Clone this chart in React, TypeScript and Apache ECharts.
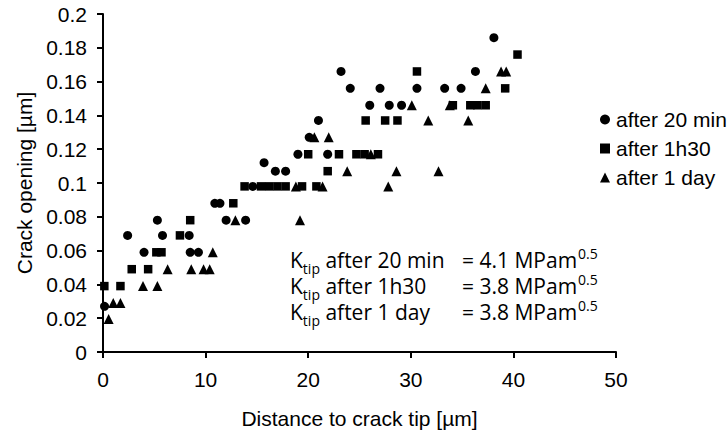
import React, { useEffect, useRef } from "react";
import * as echarts from "echarts";

const xTicks = [0, 10, 20, 30, 40, 50];
const yTicks = [0, 0.02, 0.04, 0.06, 0.08, 0.1, 0.12, 0.14, 0.16, 0.18, 0.2];

const after20min: [number, number][] = [
  [0.15, 0.027], [2.4, 0.069], [4.0, 0.059], [5.3, 0.078], [5.8, 0.069], [8.4, 0.069],
  [8.5, 0.059], [9.3, 0.059], [10.9, 0.088], [11.4, 0.088], [12.0, 0.078], [13.9, 0.078],
  [14.6, 0.098], [15.7, 0.112], [16.8, 0.107], [17.8, 0.107], [19.0, 0.117], [20.1, 0.127],
  [21.0, 0.137], [21.9, 0.117], [23.2, 0.166], [24.1, 0.156], [26.0, 0.146], [27.0, 0.156],
  [27.9, 0.146], [29.1, 0.146], [30.6, 0.156], [33.3, 0.156], [34.9, 0.156], [36.3, 0.166],
  [38.1, 0.186],
];

const after1h30: [number, number][] = [
  [0.13, 0.039], [1.7, 0.039], [2.8, 0.049], [4.4, 0.049], [5.2, 0.059], [5.7, 0.059],
  [7.5, 0.069], [8.5, 0.078], [12.7, 0.088], [13.8, 0.098], [15.4, 0.098], [16.2, 0.098],
  [17.0, 0.098], [17.8, 0.098], [19.4, 0.098], [20.8, 0.098], [20.0, 0.117], [21.9, 0.107],
  [23.0, 0.117], [24.7, 0.117], [25.5, 0.117], [26.8, 0.117], [25.6, 0.137], [27.5, 0.137],
  [28.7, 0.137], [30.6, 0.166], [34.1, 0.146], [35.8, 0.146], [36.5, 0.146], [37.3, 0.146],
  [39.2, 0.156], [40.4, 0.176],
];

const after1day: [number, number][] = [
  [0.55, 0.0196], [1.0, 0.029], [1.7, 0.029], [3.9, 0.039], [5.3, 0.039], [6.3, 0.049],
  [8.6, 0.049], [9.8, 0.049], [10.4, 0.049], [10.7, 0.059], [12.9, 0.078], [18.8, 0.098],
  [19.2, 0.078], [20.6, 0.127], [21.4, 0.098], [22.0, 0.127], [23.8, 0.107], [26.1, 0.117],
  [27.8, 0.098], [28.6, 0.107], [30.1, 0.146], [31.7, 0.137], [32.7, 0.107], [33.8, 0.146],
  [35.6, 0.137], [37.3, 0.156], [38.8, 0.166], [39.3, 0.166],
];

const seriesNames = ["after 20 min", "after 1h30", "after 1 day"];
const kLabels = ["after 20 min", "after 1h30", "after 1 day"];
const kValues = ["4.1", "3.8", "3.8"];

export default function App() {
  const ref = useRef<HTMLDivElement>(null);
  useEffect(() => {
    if (!ref.current) return;
    const chart = echarts.init(ref.current, undefined, { renderer: "svg" });
    const axisFont = "Arial, 'Liberation Sans', sans-serif";
    const kFam = "'Open Sans', 'DejaVu Sans', sans-serif";
    const mainSize = 21;
    const smallSize = 14;
    const ctx = document.createElement("canvas").getContext("2d") as CanvasRenderingContext2D;
    const measure = (t: string, size: number) => {
      ctx.font = size + "px " + kFam;
      return ctx.measureText(t).width;
    };
    const kTexts: any[] = [];
    const x0 = 290;
    const xEq = 462;
    kLabels.forEach((lab, i) => {
      const y = 260 + i * 26;
      const wK = measure("K", mainSize);
      const wTip = measure("tip", smallSize);
      kTexts.push({ type: "text", x: x0, y, style: { text: "K", fontSize: mainSize, fontFamily: kFam, fill: "#000", align: "left", verticalAlign: "middle" } });
      kTexts.push({ type: "text", x: x0 + wK, y: y + 8, style: { text: "tip", fontSize: smallSize, fontFamily: kFam, fill: "#000", align: "left", verticalAlign: "middle" } });
      kTexts.push({ type: "text", x: x0 + wK + wTip, y, style: { text: " " + lab, fontSize: mainSize, fontFamily: kFam, fill: "#000", align: "left", verticalAlign: "middle" } });
      const eqText = "= " + kValues[i] + " MPam";
      const wEq = measure(eqText, mainSize);
      kTexts.push({ type: "text", x: xEq, y, style: { text: eqText, fontSize: mainSize, fontFamily: kFam, fill: "#000", align: "left", verticalAlign: "middle" } });
      kTexts.push({ type: "text", x: xEq + wEq + 1, y: y - 7, style: { text: "0.5", fontSize: smallSize, fontFamily: kFam, fill: "#000", align: "left", verticalAlign: "middle" } });
    });
    chart.setOption({
      animation: false,
      backgroundColor: "#fff",
      grid: { left: 103, right: 112, top: 14, bottom: 82, containLabel: false },
      legend: {
        orient: "vertical",
        left: 595,
        top: 104,
        itemWidth: 10,
        itemHeight: 10,
        itemGap: 8,
        textStyle: { fontSize: 21, fontFamily: axisFont, color: "#000", padding: [0, 0, 0, 1] },
        data: [
          { name: seriesNames[0], icon: "circle" },
          { name: seriesNames[1], icon: "rect" },
          { name: seriesNames[2], icon: "triangle" },
        ],
      },
      xAxis: {
        type: "value",
        min: xTicks[0],
        max: xTicks[xTicks.length - 1],
        interval: 10,
        name: "Distance to crack tip [µm]",
        nameLocation: "middle",
        nameGap: 56,
        nameTextStyle: { fontSize: 21, fontFamily: axisFont, color: "#000" },
        axisLine: { show: true, onZero: false, lineStyle: { color: "#000", width: 2 } },
        axisTick: { show: true, inside: false, length: 6, lineStyle: { color: "#000", width: 2 } },
        axisLabel: { fontSize: 21, fontFamily: axisFont, color: "#000", margin: 17 },
        splitLine: { show: false },
      },
      yAxis: {
        type: "value",
        min: yTicks[0],
        max: yTicks[yTicks.length - 1],
        interval: 0.02,
        name: "Crack opening [µm]",
        nameLocation: "middle",
        nameGap: 65,
        nameRotate: 90,
        nameTextStyle: { fontSize: 21, fontFamily: axisFont, color: "#000" },
        axisLine: { show: true, onZero: false, lineStyle: { color: "#000", width: 2 } },
        axisTick: { show: true, inside: false, length: 6, lineStyle: { color: "#000", width: 2 } },
        axisLabel: {
          fontSize: 21,
          fontFamily: axisFont,
          color: "#000",
          margin: 16,
          formatter: (v: number) => String(parseFloat(v.toFixed(2))),
        },
        splitLine: { show: false },
      },
      series: [
        {
          name: seriesNames[0],
          type: "scatter",
          symbol: "circle",
          symbolSize: 9,
          itemStyle: { color: "#000", opacity: 1 },
          data: after20min,
        },
        {
          name: seriesNames[1],
          type: "scatter",
          symbol: "rect",
          symbolSize: 8.5,
          itemStyle: { color: "#000", opacity: 1 },
          data: after1h30,
        },
        {
          name: seriesNames[2],
          type: "scatter",
          symbol: "triangle",
          symbolSize: 10,
          itemStyle: { color: "#000", opacity: 1 },
          data: after1day,
        },
      ],
      graphic: kTexts,
    });
    return () => chart.dispose();
  }, []);
  return (
    <div
      ref={ref}
      style={{ position: "absolute", left: 0, top: 0, width: 728, height: 434 }}
    />
  );
}
